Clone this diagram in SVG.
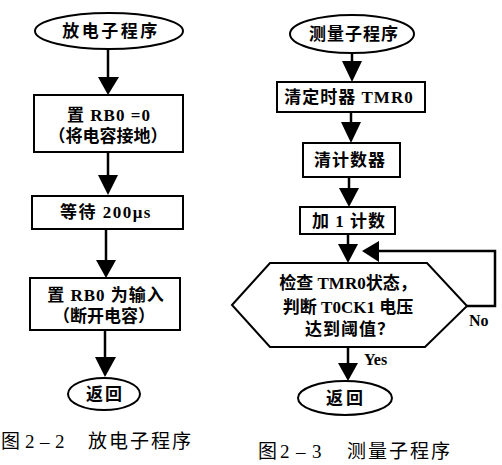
<svg xmlns="http://www.w3.org/2000/svg" width="502" height="465" viewBox="0 0 502 465">
<style>
.shape{fill:#fff;stroke:#000;stroke-width:2}
.ln{fill:none;stroke:#000;stroke-width:2.5}
.ah{fill:#000;stroke:none}
.t{font-family:"Liberation Serif","Noto Sans CJK SC",serif;font-weight:bold;font-size:17px;text-anchor:middle;fill:#000}
.cap{font-family:"Liberation Serif","Noto Sans CJK SC",serif;font-size:19px;fill:#000}
.lbl{font-family:"Liberation Serif",serif;font-weight:bold;font-size:16px;fill:#000}
</style>
<rect width="502" height="465" fill="#fff"/>
<g id="connectors">
<line class="ln" x1="108" y1="49" x2="108" y2="78"/>
<polygon class="ah" points="98,77 119,77 108,95"/>
<line class="ln" x1="108" y1="152" x2="108" y2="176"/>
<polygon class="ah" points="98,175 118,175 108,195"/>
<line class="ln" x1="106" y1="229" x2="106" y2="261"/>
<polygon class="ah" points="96,260 116,260 106,278"/>
<line class="ln" x1="105" y1="330" x2="105" y2="358"/>
<polygon class="ah" points="95,357 116,357 105,377"/>
<line class="ln" x1="352" y1="53" x2="352" y2="62"/>
<polygon class="ah" points="342,61 362,61 352,82"/>
<line class="ln" x1="351" y1="112" x2="351" y2="123"/>
<polygon class="ah" points="341,122 361,122 351,143"/>
<line class="ln" x1="349" y1="177" x2="349" y2="189"/>
<polygon class="ah" points="339,188 359,188 349,207"/>
<line class="ln" x1="348" y1="234" x2="348" y2="245"/>
<polygon class="ah" points="338,244 358,244 348,263"/>
<polyline class="ln" points="467,306 495,306 495,251 377,251"/>
<polygon class="ah" points="379,241 379,262 362,251"/>
<text class="lbl" x="469" y="326">No</text>
<line class="ln" x1="348" y1="347" x2="348" y2="364"/>
<polygon class="ah" points="338,363 358,363 348,381"/>
<text class="lbl" x="364" y="365">Yes</text>
</g>
<g id="start1">
<ellipse class="shape" cx="109" cy="31" rx="74" ry="18"/>
<text class="t" x="111" y="37" letter-spacing="2.5">放电子程序</text>
</g>
<g id="set-rb0-0">
<rect class="shape" x="34" y="95" width="149" height="57"/>
<text class="t" x="109" y="121" letter-spacing="1">置 RB0 =0</text>
<text class="t" x="108" y="142">（将电容接地）</text>
</g>
<g id="wait">
<rect class="shape" x="32" y="196" width="151" height="33"/>
<text class="t" x="106" y="218" letter-spacing="1.5">等待 200μs</text>
</g>
<g id="set-rb0-input">
<rect class="shape" x="30" y="278" width="150" height="52"/>
<text class="t" x="106" y="301" letter-spacing="1">置 RB0 为输入</text>
<text class="t" x="104" y="322">（断开电容）</text>
</g>
<g id="return1">
<ellipse class="shape" cx="104" cy="394" rx="36" ry="16"/>
<text class="t" x="105" y="400" letter-spacing="2">返回</text>
</g>
<g id="start2">
<ellipse class="shape" cx="352" cy="34" rx="62" ry="19"/>
<text class="t" x="354" y="40" letter-spacing="1">测量子程序</text>
</g>
<g id="clear-tmr0">
<rect class="shape" x="277" y="82" width="148" height="30"/>
<text class="t" x="349" y="103" letter-spacing="1">清定时器 TMR0</text>
</g>
<g id="clear-counter">
<rect class="shape" x="303" y="143" width="97" height="34"/>
<text class="t" x="350" y="166" letter-spacing="1">清计数器</text>
</g>
<g id="inc-counter">
<rect class="shape" x="300" y="207" width="95" height="27"/>
<text class="t" x="349" y="227" letter-spacing="1">加 1 计数</text>
</g>
<g id="check">
<polygon class="shape" points="232,305 270,263 427,263 467,306 425,347 270,347"/>
<text class="t" x="348" y="289">检查 TMR0状态，</text>
<text class="t" x="348" y="313">判断 T0CK1 电压</text>
<text class="t" x="350" y="335" letter-spacing="1">达到阈值？</text>
</g>
<g id="return2">
<ellipse class="shape" cx="345" cy="398" rx="47" ry="17"/>
<text class="t" x="346" y="404" letter-spacing="3">返回</text>
</g>
<text class="cap" y="448"><tspan x="1">图</tspan><tspan x="25">2</tspan><tspan x="40">–</tspan><tspan x="55">2</tspan><tspan x="88" letter-spacing="2">放电子程序</tspan></text>
<text class="cap" y="458"><tspan x="258">图</tspan><tspan x="280">2</tspan><tspan x="296">–</tspan><tspan x="312">3</tspan><tspan x="347" letter-spacing="2">测量子程序</tspan></text>
</svg>
